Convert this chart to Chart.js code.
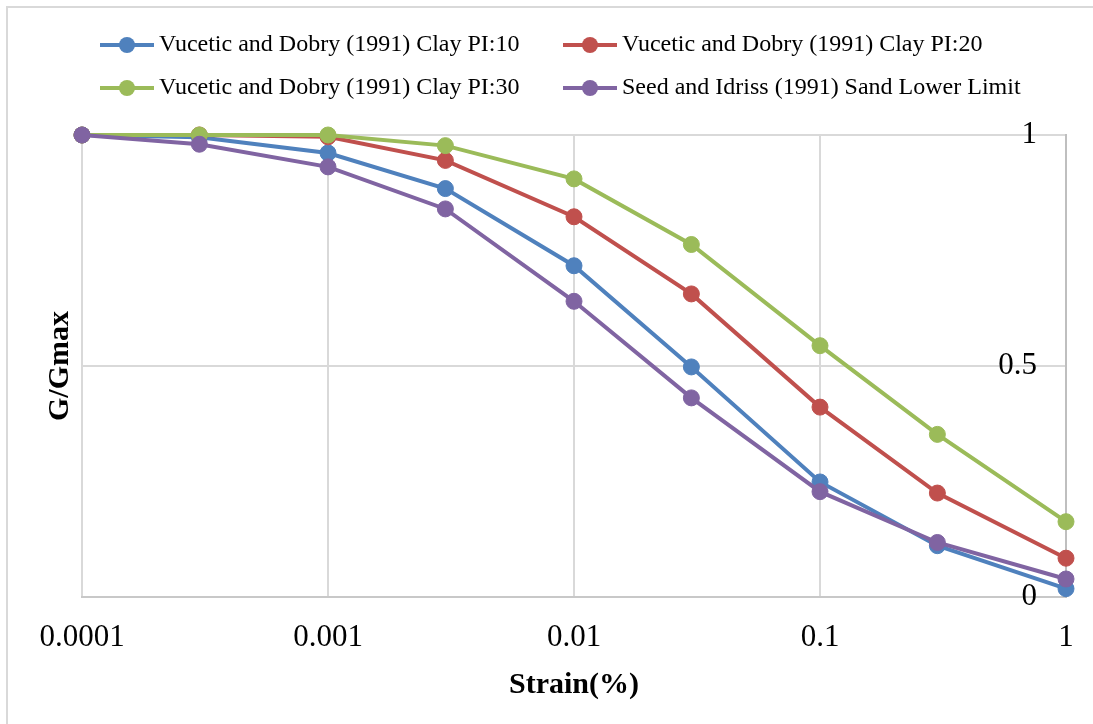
<!DOCTYPE html>
<html>
<head>
<meta charset="utf-8">
<script src="https://cdn.jsdelivr.net/npm/chart.js@4/dist/chart.umd.min.js"></script>
<style>
  body { margin: 0; background: #fff; }
  #wrap { width: 1093px; height: 724px; position: relative; }
</style>
</head>
<body>
<div id="wrap"><canvas id="myChart" width="1093" height="724"></canvas></div>
<script>
// strain values (%) and G/Gmax
var strain = [0.0001, 0.0003, 0.001, 0.003, 0.01, 0.03, 0.1, 0.3, 1];
var clayPI10 = [1.0, 0.995, 0.961, 0.884, 0.717, 0.498, 0.249, 0.111, 0.018];
var clayPI20 = [1.0, 1.0, 0.996, 0.945, 0.823, 0.656, 0.411, 0.225, 0.084];
var clayPI30 = [1.0, 1.0, 1.0, 0.977, 0.905, 0.763, 0.544, 0.352, 0.163];
var sandLower = [1.0, 0.98, 0.931, 0.840, 0.640, 0.431, 0.228, 0.118, 0.039];

var seriesNames = [
    "Vucetic and Dobry (1991) Clay PI:10",
    "Vucetic and Dobry (1991) Clay PI:20",
    "Vucetic and Dobry (1991) Clay PI:30",
    "Seed and Idriss (1991) Sand Lower Limit"
];
var seriesColors = ['#4F81BD', '#C0504D', '#9BBB59', '#8064A2'];
var xTicks = [0.0001, 0.001, 0.01, 0.1, 1];
var xTickLabels = ["0.0001", "0.001", "0.01", "0.1", "1"];
var yTicks = [0, 0.5, 1];
var yTickLabels = ["0", "0.5", "1"];

var serif = "'Liberation Serif', 'Times New Roman', serif";

function toPoints(vals) {
    var pts = [];
    for (var i = 0; i < strain.length; i++) {
        pts.push({x: strain[i], y: vals[i]});
    }
    return pts;
}

var allSeries = [clayPI10, clayPI20, clayPI30, sandLower];
var datasets = [];
for (var i = 0; i < allSeries.length; i++) {
    datasets.push({
        label: seriesNames[i],
        data: toPoints(allSeries[i]),
        borderColor: seriesColors[i],
        backgroundColor: seriesColors[i],
        pointBackgroundColor: seriesColors[i],
        pointBorderColor: seriesColors[i],
        borderWidth: 4,
        pointRadius: 8,
        pointBorderWidth: 1,
        tension: 0,
        clip: false,
        order: allSeries.length - i
    });
}

// excel style legend: line with a dot, two aligned columns
var legendPlugin = {
    id: 'excelLegend',
    afterDraw: function (chart) {
        var ctx = chart.ctx;
        var cols = [100, 563];
        var rows = [45, 88];
        ctx.save();
        for (var i = 0; i < seriesNames.length; i++) {
            var x = cols[i % 2];
            var y = rows[Math.floor(i / 2)];
            ctx.strokeStyle = seriesColors[i];
            ctx.lineWidth = 4;
            ctx.beginPath();
            ctx.moveTo(x, y);
            ctx.lineTo(x + 54, y);
            ctx.stroke();
            ctx.fillStyle = seriesColors[i];
            ctx.beginPath();
            ctx.arc(x + 27, y, 8, 0, Math.PI * 2);
            ctx.fill();
            ctx.fillStyle = '#000';
            ctx.font = "24px " + serif;
            ctx.textBaseline = 'middle';
            ctx.textAlign = 'left';
            ctx.fillText(seriesNames[i], x + 59, y);
        }
        // outer frame
        ctx.strokeStyle = '#d9d9d9';
        ctx.lineWidth = 2;
        ctx.strokeRect(7, 7, 1200, 800);
        ctx.restore();
    }
};

window.onload = function () {
    var ctx = document.getElementById("myChart");
    window.myLine = new Chart(ctx, {
        type: 'line',
        data: { datasets: datasets },
        plugins: [legendPlugin],
        options: {
            responsive: false,
            animation: false,
            layout: { padding: { top: 135, right: 27, left: 0, bottom: 0 } },
            plugins: {
                legend: { display: false },
                tooltip: { enabled: false }
            },
            scales: {
                x: {
                    type: 'logarithmic',
                    position: 'bottom',
                    min: 0.0001,
                    max: 1,
                    afterBuildTicks: function (axis) {
                        axis.ticks = xTicks.map(function (v) { return {value: v}; });
                    },
                    afterFit: function (axis) {
                        axis.height = 127;
                        axis.paddingLeft = 0;
                        axis.paddingRight = 0;
                    },
                    ticks: {
                        autoSkip: false,
                        maxRotation: 0,
                        padding: 22,
                        color: '#000',
                        font: { family: serif, size: 31 },
                        callback: function (value) {
                            var k = xTicks.indexOf(value);
                            return k >= 0 ? xTickLabels[k] : '';
                        }
                    },
                    grid: { color: '#d9d9d9', lineWidth: 2, drawTicks: false },
                    border: { color: '#c8c8c8', width: 2 },
                    title: {
                        display: true,
                        text: 'Strain(%)',
                        color: '#000',
                        font: { family: serif, size: 30, weight: 'bold' },
                        padding: { top: 0, bottom: 21 }
                    }
                },
                y: {
                    type: 'linear',
                    position: 'right',
                    min: 0,
                    max: 1,
                    afterBuildTicks: function (axis) {
                        axis.ticks = yTicks.map(function (v) { return {value: v}; });
                    },
                    afterFit: function (axis) { axis.width = 0; },
                    ticks: {
                        mirror: true,
                        padding: -29,
                        color: '#000',
                        font: { family: serif, size: 31 },
                        callback: function (value) {
                            var k = yTicks.indexOf(value);
                            return k >= 0 ? yTickLabels[k] : '';
                        }
                    },
                    grid: { color: '#d9d9d9', lineWidth: 2, drawTicks: false },
                    border: { color: '#bfbfbf', width: 2 }
                },
                yTitle: {
                    type: 'linear',
                    position: 'left',
                    min: 0,
                    max: 1,
                    afterFit: function (axis) { axis.width = 82; },
                    ticks: { display: false },
                    grid: { display: false, drawTicks: false },
                    border: { display: false },
                    title: {
                        display: true,
                        text: 'G/Gmax',
                        color: '#000',
                        font: { family: serif, size: 30, weight: 'bold' },
                        padding: { top: 42, bottom: 0 }
                    }
                }
            }
        }
    });
};
</script>
</body>
</html>
